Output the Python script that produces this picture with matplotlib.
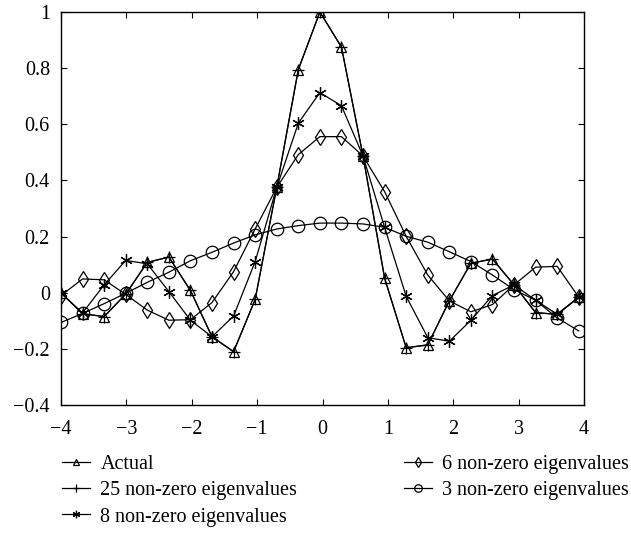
import numpy as np
import matplotlib
matplotlib.use("Agg")
import matplotlib.pyplot as plt

plt.rcParams["font.family"] = ["Liberation Serif", "DejaVu Serif"]

# sample positions (step 0.33 from -4)
x = -4 + 0.33 * np.arange(25)

actual = [0.0, -0.075, -0.085, -0.005, 0.108, 0.127, 0.008, -0.157, -0.21, -0.024,
          0.375, 0.795, 1.0, 0.875, 0.487, 0.052, -0.196, -0.186, -0.029, 0.105,
          0.12, 0.028, -0.071, -0.077, -0.016]
eig25 = actual
eig8 = [-0.002, -0.072, 0.028, 0.115, 0.103, 0.004, -0.098, -0.157, -0.083, 0.111,
        0.375, 0.604, 0.713, 0.666, 0.487, 0.233, -0.013, -0.16, -0.173, -0.098,
        -0.01, 0.028, -0.027, -0.077, -0.016]
eig6 = [-0.01, 0.049, 0.046, -0.006, -0.062, -0.098, -0.096, -0.035, 0.075, 0.227,
        0.375, 0.492, 0.556, 0.556, 0.487, 0.36, 0.201, 0.063, -0.029, -0.068,
        -0.042, 0.028, 0.091, 0.094, -0.016]
eig3 = [-0.106, -0.074, -0.039, -0.002, 0.037, 0.073, 0.114, 0.144, 0.177, 0.206,
        0.227, 0.239, 0.248, 0.248, 0.245, 0.233, 0.201, 0.18, 0.146, 0.111,
        0.063, 0.011, -0.027, -0.09, -0.136]

labels = ["Actual", "25 non-zero eigenvalues", "8 non-zero eigenvalues",
          "6 non-zero eigenvalues", "3 non-zero eigenvalues"]
series = [actual, eig25, eig8, eig6, eig3]
markers = ["^", "+", (6, 2, 0), "d", "o"]
sizes = [7, 9, 9, 8, 9]

fig = plt.figure(figsize=(6.31, 5.48), dpi=100)
ax = fig.add_axes([61 / 631, 1 - 405 / 548, 523 / 631, 393 / 548])

handles = []
for ys, m, s, lab in zip(series, markers, sizes, labels):
    h, = ax.plot(x, ys, color="black", lw=0.9, marker=m, ms=s, mfc="none",
                 mec="black", mew=0.9, label=lab)
    handles.append(h)

ax.set_xlim(-4, 4)
ax.set_ylim(-0.4, 1)
ax.set_xticks(np.arange(-4, 5))
ax.set_xticklabels(["\u22124", "\u22123", "\u22122", "\u22121", "0", "1", "2", "3", "4"])
ax.set_yticks([-0.4, -0.2, 0, 0.2, 0.4, 0.6, 0.8, 1])
ax.set_yticklabels(["\u22120.4", "\u22120.2", "0", "0.2", "0.4", "0.6", "0.8", "1"])
ax.tick_params(direction="in", top=True, right=True, length=4, labelsize=14.5)
ax.tick_params(axis="x", pad=11)
ax.tick_params(axis="y", pad=8)
for sp in ax.spines.values():
    sp.set_linewidth(1.0)

fig.legend(handles, labels,
           loc="upper left", bbox_to_anchor=(44 / 631, 1 - 437 / 548),
           ncol=2, frameon=False, fontsize=14.5, markerscale=0.6,
           handlelength=1.4, handletextpad=0.5, columnspacing=5.3,
           labelspacing=0.35)

fig.savefig("out.png", dpi=100)
